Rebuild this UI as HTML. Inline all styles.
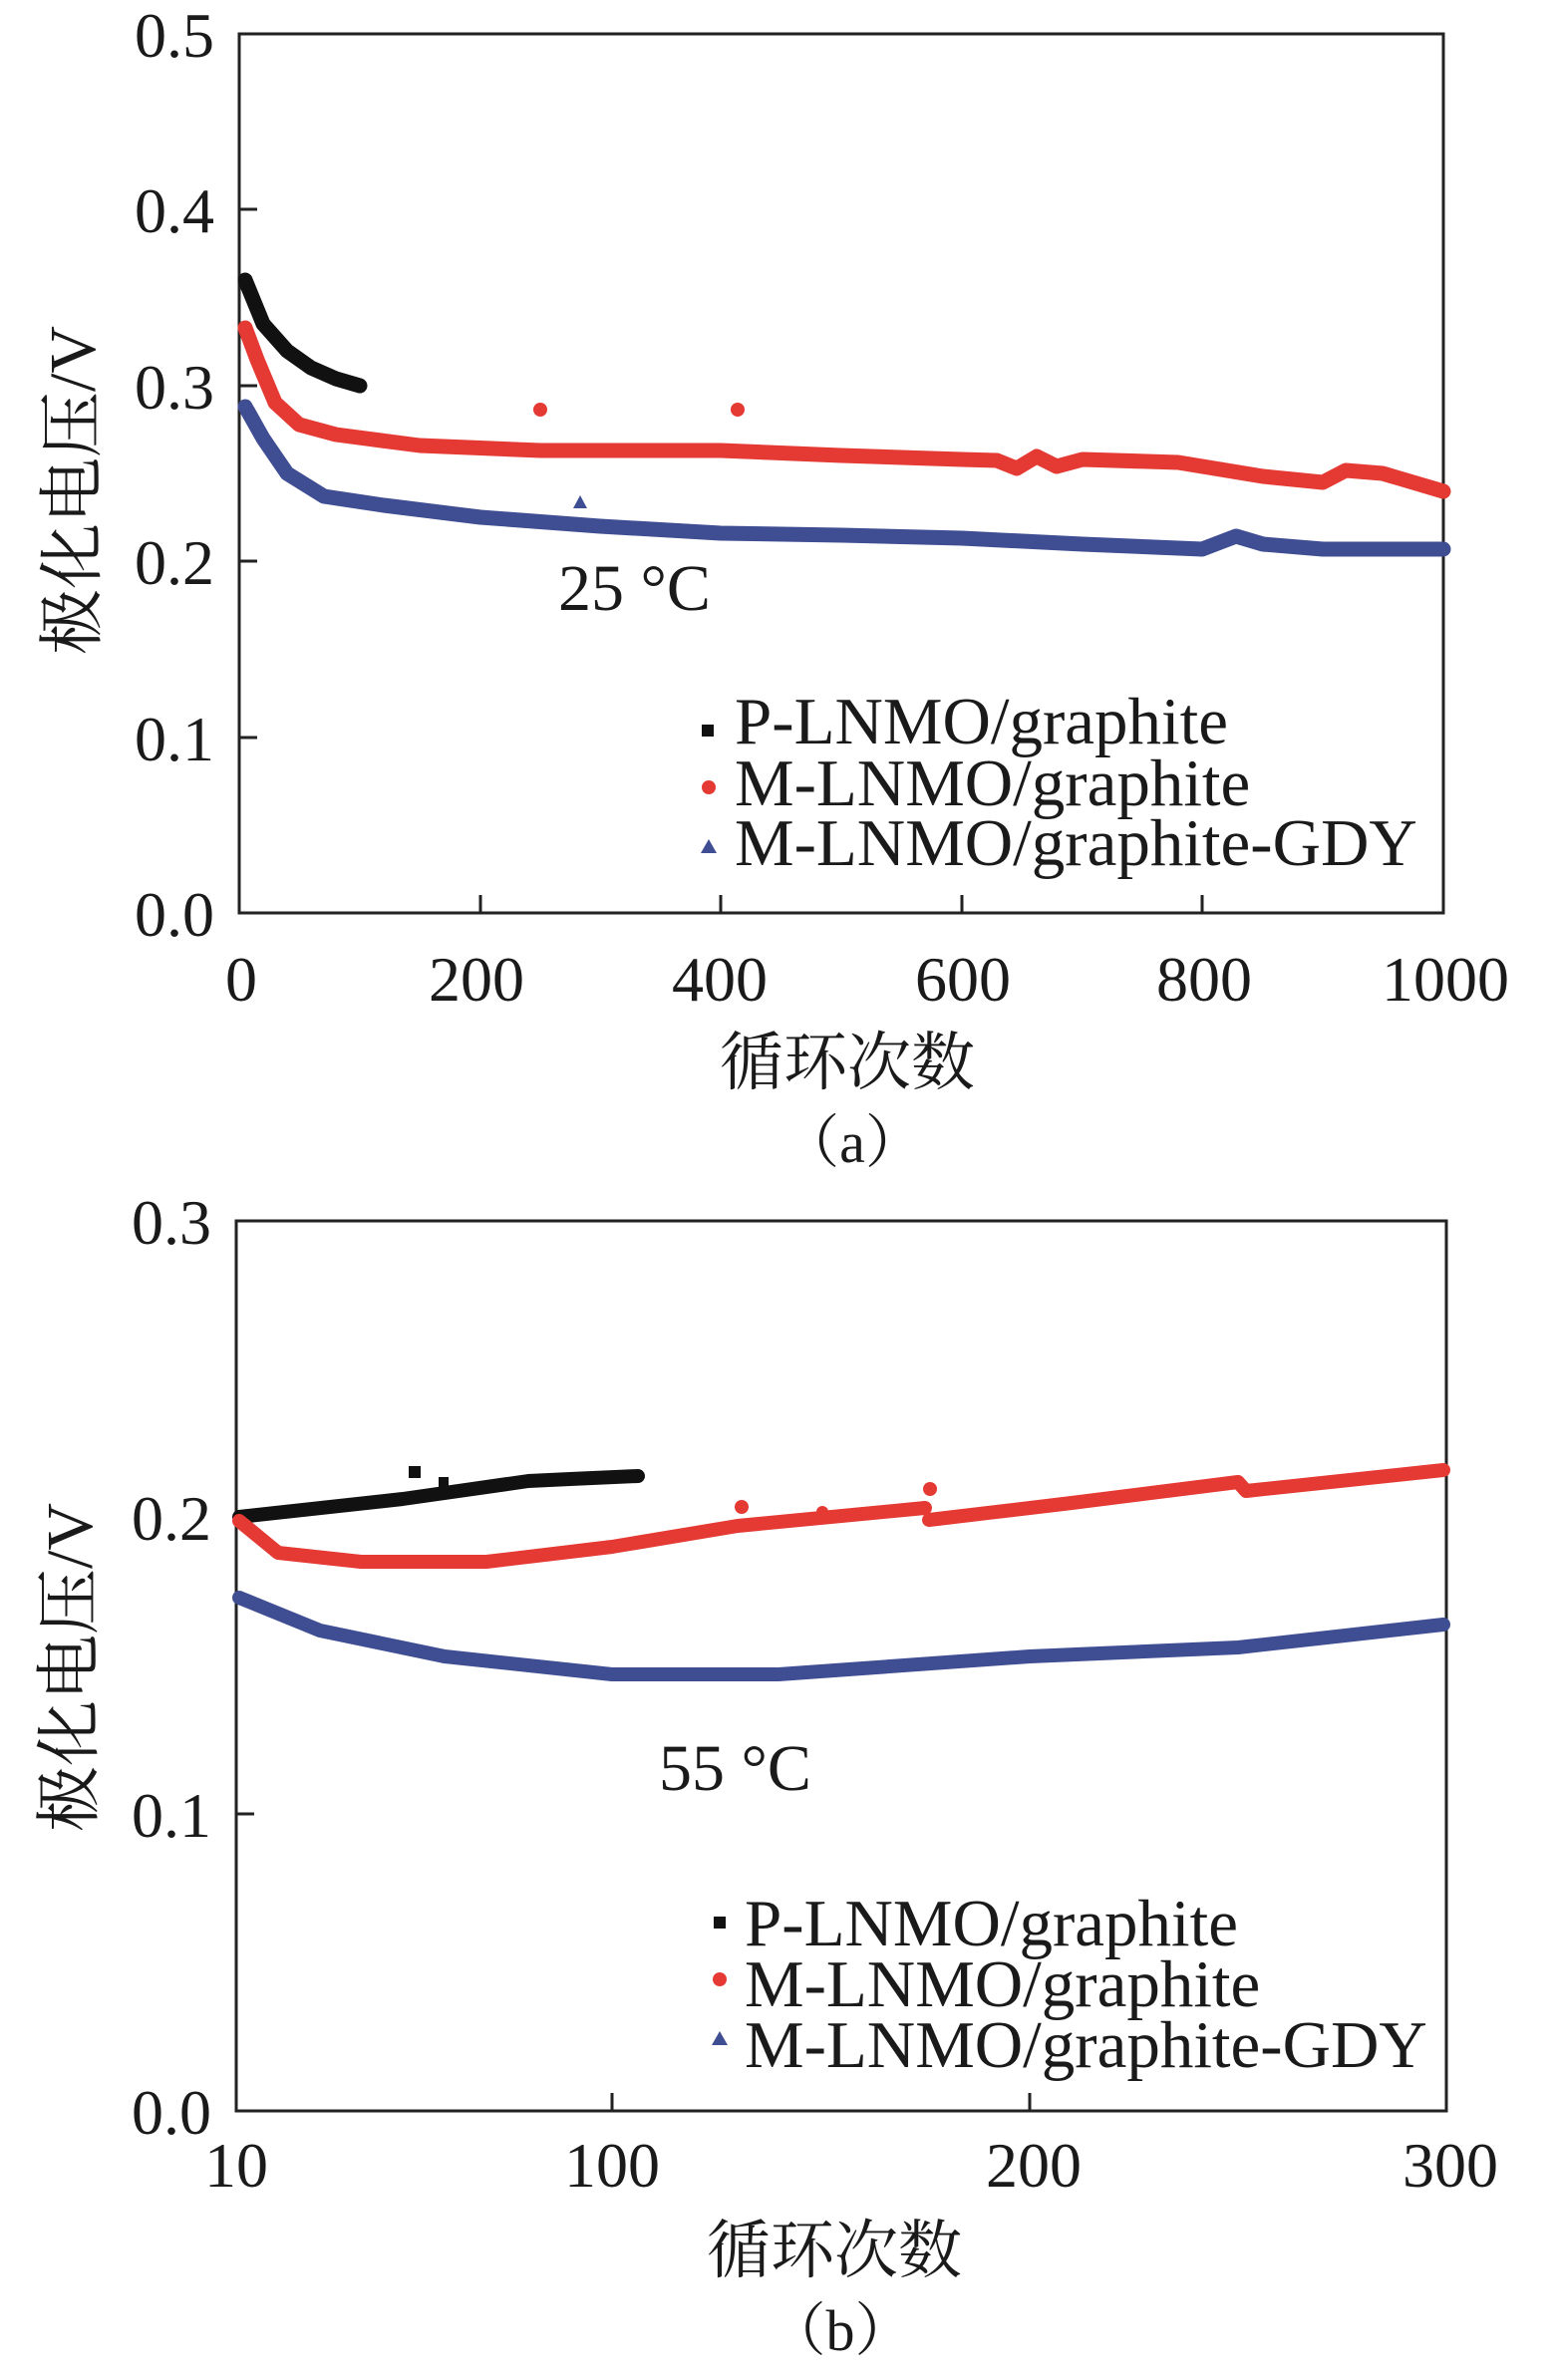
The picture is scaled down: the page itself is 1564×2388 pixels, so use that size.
<!DOCTYPE html>
<html><head><meta charset="utf-8"><style>
html,body{margin:0;padding:0;background:#fff;}
svg text{font-family:"Liberation Serif","Noto Serif CJK SC",serif;fill:#1a1a1a;}
</style></head><body>
<svg width="1564" height="2383" viewBox="0 0 1564 2383" xmlns="http://www.w3.org/2000/svg">
<!-- Chart A -->
<g>
<rect x="240" y="34" width="1208" height="882" fill="none" stroke="#222" stroke-width="3"/>
<g stroke="#222" stroke-width="3">
<line x1="240" y1="210" x2="258" y2="210"/><line x1="240" y1="387" x2="258" y2="387"/>
<line x1="240" y1="563" x2="258" y2="563"/><line x1="240" y1="740" x2="258" y2="740"/>
<line x1="482" y1="916" x2="482" y2="898"/><line x1="723" y1="916" x2="723" y2="898"/>
<line x1="965" y1="916" x2="965" y2="898"/><line x1="1206" y1="916" x2="1206" y2="898"/>
</g>
<g font-size="64" text-anchor="end">
<text x="215" y="57">0.5</text><text x="215" y="233">0.4</text><text x="215" y="410">0.3</text>
<text x="215" y="586">0.2</text><text x="215" y="763">0.1</text><text x="215" y="939">0.0</text>
</g>
<g font-size="64" text-anchor="middle">
<text x="242" y="1004">0</text><text x="478" y="1004">200</text><text x="722" y="1004">400</text>
<text x="966" y="1004">600</text><text x="1208" y="1004">800</text><text x="1450" y="1004">1000</text>
</g>
<text x="850" y="1088" font-size="64" text-anchor="middle">循环次数</text>
<text x="855" y="1166" font-size="58" text-anchor="middle">（a）</text>
<text transform="translate(95,492) rotate(-90)" font-size="66" text-anchor="middle">极化电压/V</text>
<text x="560" y="612" font-size="66">25 °C</text>
<g fill="none" stroke-linecap="round" stroke-linejoin="round" stroke-width="15">
<polyline stroke="#111" points="246,281 264,325 288,352 312,369 337,380 361,387"/>
<polyline stroke="#e53a33" points="246,329 258,361 276,404 300,426 337,436 421,447 542,452 723,452 844,457 965,461 1000,462 1020,470 1040,458 1060,468 1086,461 1182,464 1267,478 1327,484 1350,472 1387,475 1448,493"/>
<polyline stroke="#3f4d93" points="246,408 264,440 288,475 325,498 385,507 482,519 602,528 723,535 844,537 965,540 1086,546 1206,551 1240,538 1267,546 1327,551 1448,551"/>
</g>
<circle cx="542" cy="411" r="7" fill="#e53a33"/><circle cx="740" cy="411" r="7" fill="#e53a33"/>
<polygon points="582,497 575,510 589,510" fill="#3f4d93"/>
<rect x="704" y="727" width="12" height="12" fill="#111"/>
<circle cx="711" cy="790" r="7" fill="#e53a33"/>
<polygon points="711,842 703,856 719,856" fill="#3f4d93"/>
<g font-size="67"><text x="737" y="746">P-LNMO/graphite</text><text x="737" y="808">M-LNMO/graphite</text><text x="737" y="868">M-LNMO/graphite-GDY</text></g>
</g>
<!-- Chart B -->
<g>
<rect x="237" y="1225" width="1214" height="893" fill="none" stroke="#222" stroke-width="3"/>
<g stroke="#222" stroke-width="3">
<line x1="237" y1="1522" x2="255" y2="1522"/><line x1="237" y1="1820" x2="255" y2="1820"/>
<line x1="614" y1="2118" x2="614" y2="2100"/><line x1="1033" y1="2118" x2="1033" y2="2100"/>
</g>
<g font-size="64" text-anchor="end">
<text x="212" y="1248">0.3</text><text x="212" y="1545">0.2</text><text x="212" y="1843">0.1</text><text x="212" y="2141">0.0</text>
</g>
<g font-size="64" text-anchor="middle">
<text x="237" y="2194">10</text><text x="614" y="2194">100</text><text x="1037" y="2194">200</text><text x="1455" y="2194">300</text>
</g>
<text x="837" y="2280" font-size="64" text-anchor="middle">循环次数</text>
<text x="843" y="2358" font-size="58" text-anchor="middle">（b）</text>
<text transform="translate(92,1673) rotate(-90)" font-size="66" text-anchor="middle">极化电压/V</text>
<text x="661" y="1796" font-size="66">55 °C</text>
<g fill="none" stroke-linecap="round" stroke-linejoin="round" stroke-width="14">
<polyline stroke="#111" points="240,1522 404,1504 530,1486 572,1484 640,1481"/>
<polyline stroke="#e53a33" points="240,1526 279,1558 362,1567 488,1567 614,1552 740,1531 928,1513"/>
<polyline stroke="#e53a33" points="932,1525 1075,1508 1242,1487 1250,1496 1448,1475"/>
<polyline stroke="#3f4d93" points="240,1603 321,1636 446,1662 614,1680 781,1680 1033,1662 1242,1653 1448,1630"/>
</g>
<rect x="410" y="1471" width="12" height="12" fill="#111"/><rect x="440" y="1482" width="10" height="10" fill="#111"/>
<circle cx="744" cy="1512" r="7" fill="#e53a33"/><circle cx="933" cy="1494" r="7" fill="#e53a33"/><circle cx="825" cy="1517" r="6" fill="#e53a33"/>
<rect x="716" y="1923" width="12" height="12" fill="#111"/>
<circle cx="722" cy="1986" r="7" fill="#e53a33"/>
<polygon points="722,2038 714,2052 730,2052" fill="#3f4d93"/>
<g font-size="67"><text x="747" y="1952">P-LNMO/graphite</text><text x="747" y="2013">M-LNMO/graphite</text><text x="747" y="2074">M-LNMO/graphite-GDY</text></g>
</g>
</svg>
</body></html>
